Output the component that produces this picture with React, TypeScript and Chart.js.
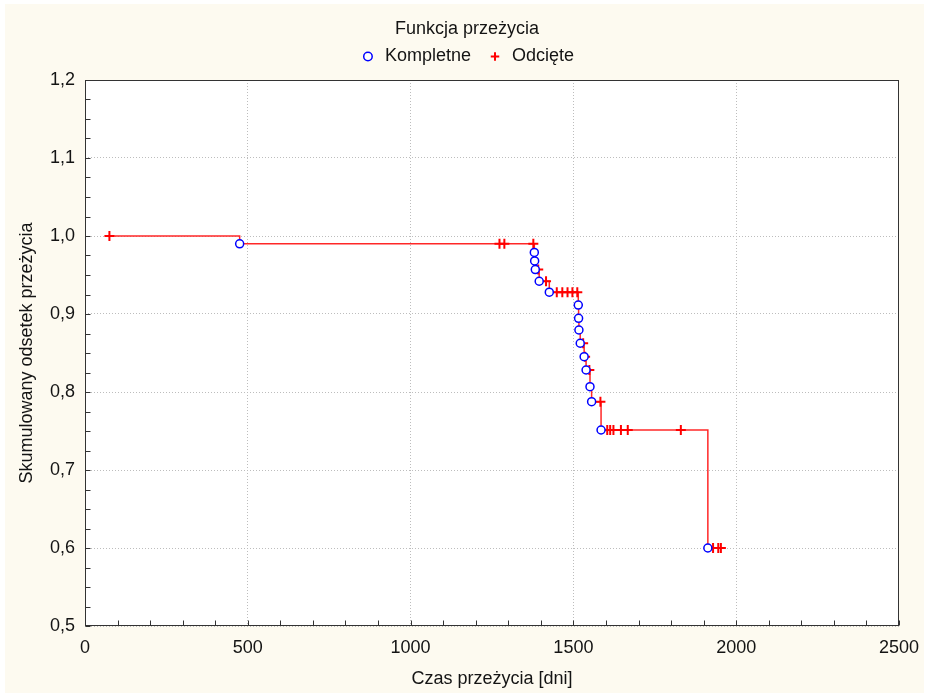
import React, { useEffect, useRef } from 'react';
import { Chart, registerables } from 'chart.js';

Chart.register(...registerables);

// ---- Texts ----
const chartTitle = 'Funkcja przeżycia';
const completeLabel = 'Kompletne';
const censoredLabel = 'Odcięte';
const xAxisTitle = 'Czas przeżycia [dni]';
const yAxisTitle = 'Skumulowany odsetek przeżycia';

// ---- Ticks ----
const xTickValues = [0, 500, 1000, 1500, 2000, 2500];
const xTickLabels = ['0', '500', '1000', '1500', '2000', '2500'];
const yTickValues = [0.5, 0.6, 0.7, 0.8, 0.9, 1.0, 1.1, 1.2];
const yTickLabels = ['0,5', '0,6', '0,7', '0,8', '0,9', '1,0', '1,1', '1,2'];

// ---- Data: complete (events) ----
const completeTimes = [475, 1380, 1381, 1383, 1395, 1426, 1515, 1516, 1517, 1521, 1533, 1539, 1551, 1556, 1585, 1913];
const completeSurvival = [0.99, 0.979, 0.968, 0.957, 0.942, 0.928, 0.9115, 0.8945, 0.8795, 0.8625, 0.8453, 0.8282, 0.8068, 0.7876, 0.7513, 0.6];

// ---- Data: censored ----
const censoredTimes = [75, 1273, 1288, 1377, 1392, 1416, 1449, 1466, 1482, 1497, 1512, 1530, 1536, 1549, 1583, 1604, 1613, 1623, 1646, 1667, 1830, 1929, 1945, 1953];
const censoredSurvival = [1.0, 0.99, 0.99, 0.99, 0.957, 0.942, 0.928, 0.928, 0.928, 0.928, 0.928, 0.8625, 0.8453, 0.8282, 0.7876, 0.7513, 0.7513, 0.7513, 0.7513, 0.7513, 0.7513, 0.6, 0.6, 0.6];

const FONT = "'Liberation Sans', Arial, sans-serif";
const TEXT_COLOR = '#141414';
const CREAM = '#fdfaf0';
const X_MINOR_STEP = 100;
const Y_MINOR_STEP = 0.025;
const TICK_LEN = 5;

const backgroundPlugin = {
  id: 'statBackground',
  beforeDraw(chart: any) {
    const { ctx, width, height, chartArea } = chart;
    ctx.save();
    ctx.fillStyle = '#ffffff';
    ctx.fillRect(0, 0, width, height);
    ctx.fillStyle = CREAM;
    ctx.fillRect(5, 4, width - 11, height - 9);
    ctx.fillStyle = '#ffffff';
    ctx.fillRect(chartArea.left, chartArea.top, chartArea.right - chartArea.left, chartArea.bottom - chartArea.top);
    ctx.restore();
  },
};

const framePlugin = {
  id: 'statFrame',
  beforeDatasetsDraw(chart: any) {
    const { ctx, chartArea, scales } = chart;
    const xs = scales.x;
    const ys = scales.y;
    const L = Math.round(chartArea.left) + 0.5;
    const R = Math.round(chartArea.right) - 0.5;
    const T = Math.round(chartArea.top) + 0.5;
    const B = Math.round(chartArea.bottom) - 0.5;
    ctx.save();
    ctx.strokeStyle = '#333333';
    ctx.lineWidth = 1;
    ctx.setLineDash([]);
    ctx.strokeRect(L, T, R - L, B - T);
    ctx.beginPath();
    const nx = Math.round((xs.max - xs.min) / X_MINOR_STEP);
    for (let i = 0; i <= nx; i++) {
      const px = Math.round(xs.getPixelForValue(xs.min + i * X_MINOR_STEP)) + 0.5;
      ctx.moveTo(px, B);
      ctx.lineTo(px, B - TICK_LEN);
    }
    const ny = Math.round((ys.max - ys.min) / Y_MINOR_STEP);
    for (let i = 0; i <= ny; i++) {
      const py = Math.round(ys.getPixelForValue(ys.min + i * Y_MINOR_STEP)) + 0.5;
      ctx.moveTo(L, py);
      ctx.lineTo(L + TICK_LEN, py);
    }
    ctx.stroke();
    ctx.restore();
  },
};

export default function App() {
  const canvasRef = useRef<HTMLCanvasElement | null>(null);

  useEffect(() => {
    document.body.style.margin = '0';
    document.body.style.background = '#ffffff';
    const canvas = canvasRef.current;
    if (!canvas) return;

    const completePoints = completeTimes.map((t, i) => ({ x: t, y: completeSurvival[i] }));
    const censoredPoints = censoredTimes.map((t, i) => ({ x: t, y: censoredSurvival[i] }));
    const curve = [...completePoints, ...censoredPoints].sort((a, b) => a.x - b.x);

    const font = { family: FONT, size: 18, weight: 'normal' as const };

    const chart = new Chart(canvas, {
      type: 'scatter',
      data: {
        datasets: [
          {
            label: completeLabel,
            data: completePoints,
            showLine: false,
            pointStyle: 'circle',
            pointRadius: 4,
            pointHoverRadius: 4,
            borderColor: '#0000ff',
            backgroundColor: '#ffffff',
            borderWidth: 1.5,
            order: 0,
          },
          {
            label: censoredLabel,
            data: censoredPoints,
            showLine: false,
            pointStyle: 'cross',
            pointRadius: 5,
            pointHoverRadius: 5,
            borderColor: '#ff0000',
            backgroundColor: '#ff0000',
            borderWidth: 2,
            order: 1,
          },
          {
            label: 'curve',
            data: curve,
            showLine: true,
            stepped: 'before',
            borderColor: 'rgb(255,40,40)',
            backgroundColor: 'rgb(255,40,40)',
            borderWidth: 1.5,
            pointRadius: 0,
            pointHoverRadius: 0,
            fill: false,
            order: 2,
          } as any,
        ],
      },
      options: {
        responsive: false,
        animation: false,
        events: [],
        layout: { padding: { top: 0, left: 8, right: 4, bottom: 4 } },
        plugins: {
          title: {
            display: true,
            text: chartTitle,
            color: TEXT_COLOR,
            font,
            padding: { top: 18.2, bottom: -8.3 },
          },
          legend: {
            display: true,
            position: 'top',
            labels: {
              usePointStyle: true,
              boxWidth: 16,
              boxHeight: 6,
              padding: 16,
              color: TEXT_COLOR,
              font,
              filter: (item: any) => item.datasetIndex !== 2,
            },
          },
          tooltip: { enabled: false },
        },
        scales: {
          x: {
            type: 'linear',
            position: 'bottom',
            min: 0,
            max: 2500,
            afterBuildTicks: (s: any) => {
              s.ticks = xTickValues.map((value) => ({ value }));
            },
            afterFit: (s: any) => {
              s.height = 68;
            },
            ticks: {
              padding: 11,
              color: TEXT_COLOR,
              font,
              maxRotation: 0,
              autoSkip: false,
              callback: (_v: any, i: number) => xTickLabels[i],
            },
            grid: { color: '#bdbdbd', lineWidth: 1, drawTicks: false },
            border: { display: false, dash: [1, 2] },
            title: { display: true, text: xAxisTitle, color: TEXT_COLOR, font, padding: { top: 4, bottom: 4 } },
          },
          y: {
            type: 'linear',
            position: 'left',
            min: 0.5,
            max: 1.2,
            afterBuildTicks: (s: any) => {
              s.ticks = yTickValues.map((value) => ({ value }));
            },
            afterFit: (s: any) => {
              s.width = 77;
            },
            ticks: {
              padding: 10,
              color: TEXT_COLOR,
              font,
              autoSkip: false,
              callback: (_v: any, i: number) => yTickLabels[i],
            },
            grid: { color: '#bdbdbd', lineWidth: 1, drawTicks: false },
            border: { display: false, dash: [1, 2] },
            title: { display: true, text: yAxisTitle, color: TEXT_COLOR, font, padding: { top: 8.2, bottom: 4 } },
          },
          x2: {
            type: 'linear',
            axis: 'x',
            position: 'top',
            display: true,
            ticks: { display: false },
            grid: { display: false },
            border: { display: false },
            afterFit: (s: any) => {
              s.height = 4.5;
            },
          } as any,
          y2: {
            type: 'linear',
            axis: 'y',
            position: 'right',
            display: true,
            ticks: { display: false },
            grid: { display: false },
            border: { display: false },
            afterFit: (s: any) => {
              s.width = 26;
            },
          } as any,
        },
      },
      plugins: [backgroundPlugin, framePlugin],
    });

    return () => {
      chart.destroy();
    };
  }, []);

  return (
    <div style={{ width: 930, height: 698 }}>
      <canvas ref={canvasRef} width={930} height={698} style={{ display: 'block' }} />
    </div>
  );
}
